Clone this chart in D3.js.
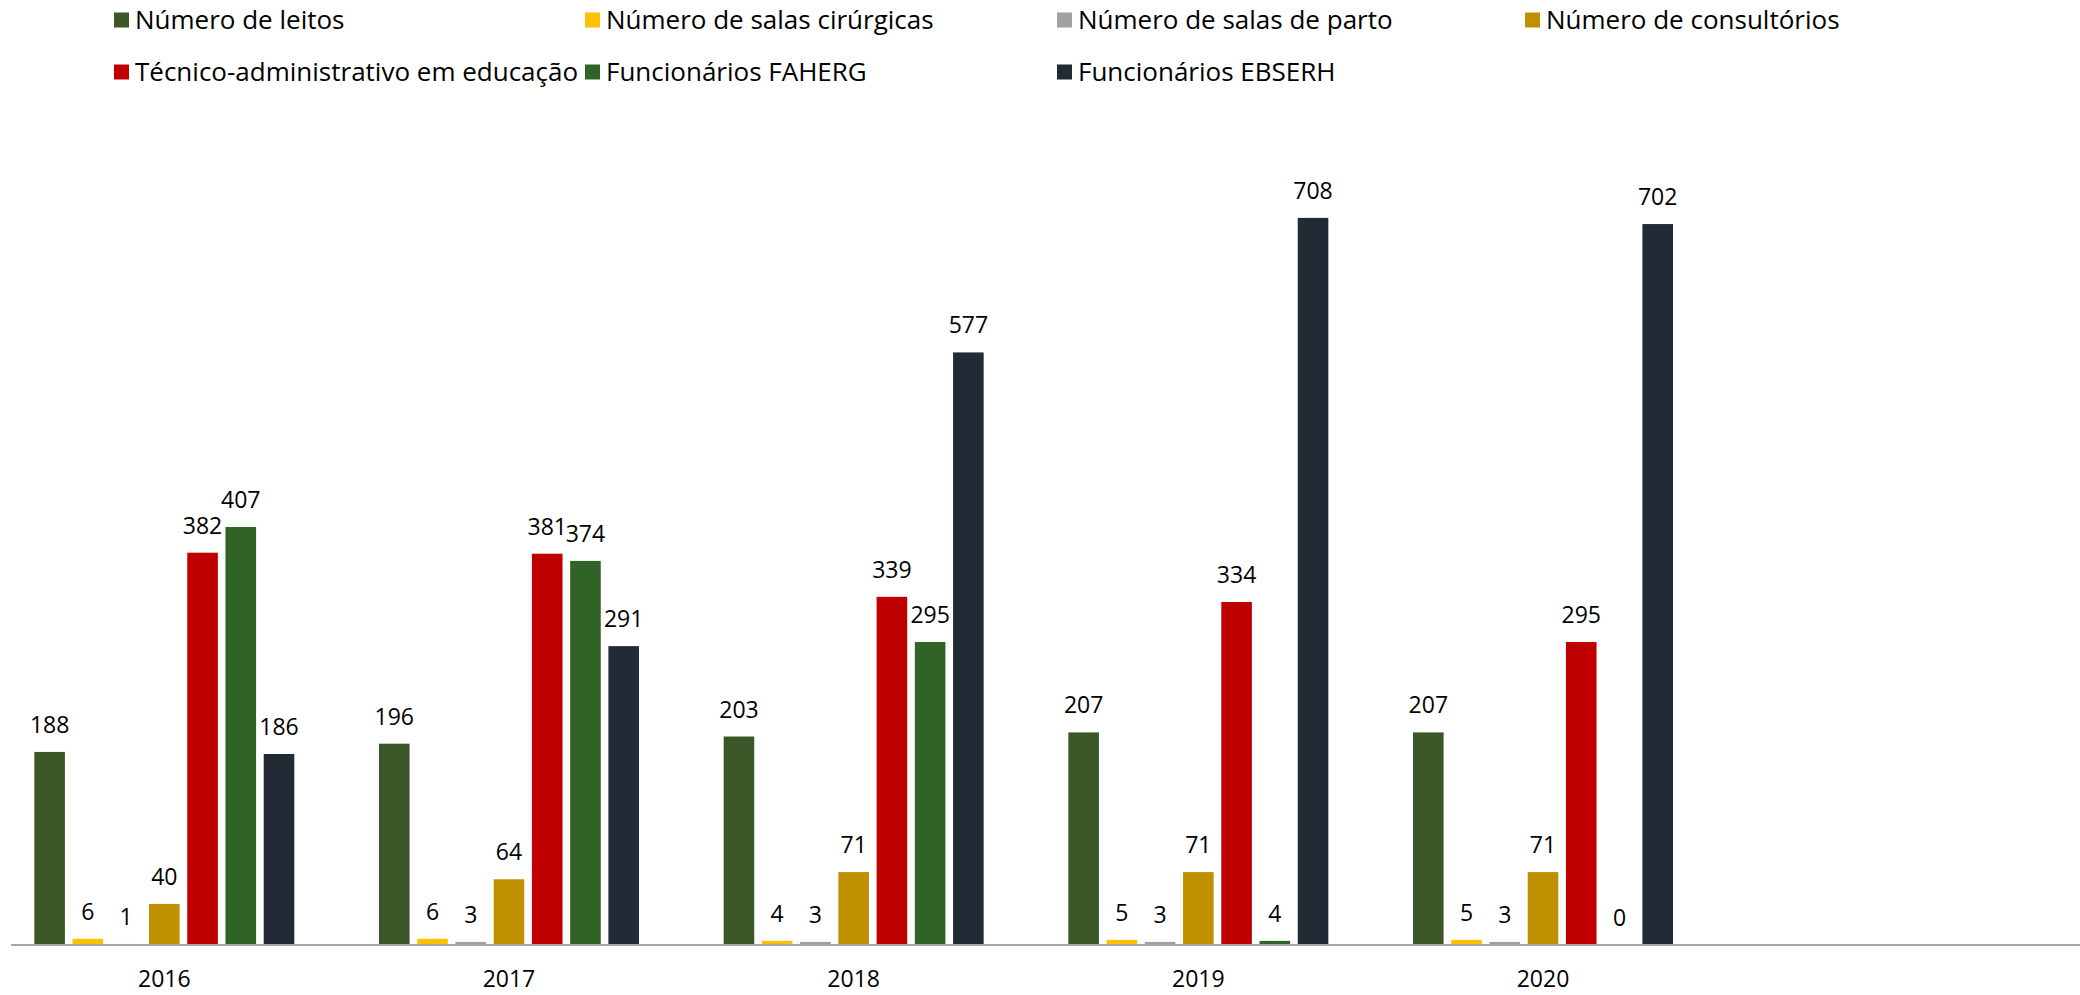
<!DOCTYPE html>
<html>
<head>
<meta charset="utf-8">
<script src="https://cdn.jsdelivr.net/npm/d3@7"></script>
<style>
  body { margin: 0; background: #fff; }
  svg { display: block; font-family: "Open Sans", sans-serif; }
</style>
</head>
<body>
<svg id="chart" width="2080" height="995"></svg>
<script>
// anos (o último slot fica vazio, como no original)
var years = ["2016", "2017", "2018", "2019", "2020", ""]
var seriesNames = [
   "Número de leitos",
   "Número de salas cirúrgicas",
   "Número de salas de parto",
   "Número de consultórios",
   "Técnico-administrativo em educação",
   "Funcionários FAHERG",
   "Funcionários EBSERH"
]
var seriesColors = ["#3B5727", "#FFC000", "#A0A0A0", "#BF9000", "#C00000", "#306427", "#222A35"]

var leitos = [188, 196, 203, 207, 207]
var salasCirurgicas = [6, 6, 4, 5, 5]
var salasParto = [1, 3, 3, 3, 3]
var consultorios = [40, 64, 71, 71, 71]
var tecnicos = [382, 381, 339, 334, 295]
var faherg = [407, 374, 295, 4, 0]
var ebserh = [186, 291, 577, 708, 702]

var seriesValues = [leitos, salasCirurgicas, salasParto, consultorios, tecnicos, faherg, ebserh]

var svg = d3.select("#chart")
var baseY = 945

var x0 = d3.scaleBand().domain(years).range([-8, 2060]).paddingInner(0.2457).paddingOuter(0.1228)
var x1 = d3.scaleBand().domain(d3.range(seriesNames.length)).range([0, x0.bandwidth()]).paddingInner(0.2)
var yScale = d3.scaleLinear().domain([0, 800]).range([baseY, 123.4])

// dados achatados
var bars = []
years.slice(0, 5).forEach(function(yr, i) {
   seriesValues.forEach(function(vals, s) {
      bars.push({ year: yr, s: s, v: vals[i] })
   })
})

svg.append("g").selectAll("rect")
   .data(bars)
   .join("rect")
   .attr("x", d => x0(d.year) + x1(d.s))
   .attr("y", d => yScale(d.v))
   .attr("width", x1.bandwidth())
   .attr("height", d => baseY - yScale(d.v))
   .attr("fill", d => seriesColors[d.s])

svg.append("g").selectAll("text")
   .data(bars)
   .join("text")
   .attr("x", d => x0(d.year) + x1(d.s) + x1.bandwidth() / 2)
   .attr("y", d => yScale(d.v) - 19)
   .attr("text-anchor", "middle")
   .style("font-size", "23px")
   .attr("fill", "#000")
   .text(d => d.v)

// eixo x
svg.append("line")
   .attr("x1", 11).attr("x2", 2080)
   .attr("y1", baseY).attr("y2", baseY)
   .attr("stroke", "#A6A6A6")
   .attr("stroke-width", 2)

svg.append("g").selectAll("text")
   .data(years.filter(d => d !== ""))
   .join("text")
   .attr("x", d => x0(d) + x0.bandwidth() / 2)
   .attr("y", 987)
   .attr("text-anchor", "middle")
   .style("font-size", "23px")
   .text(d => d)

// legenda
var legend = svg.append("g")
var legendX = [114, 585, 1057, 1525]
var legendRowY = [20, 72]
seriesNames.forEach(function(name, i) {
   var col = i < 4 ? i : i - 4
   var row = i < 4 ? 0 : 1
   var g = legend.append("g").attr("transform", "translate(" + legendX[col] + "," + legendRowY[row] + ")")
   g.append("rect").attr("x", 0).attr("y", -7.5).attr("width", 15).attr("height", 15).attr("fill", seriesColors[i])
   g.append("text").attr("x", 21).attr("y", 9).style("font-size", "26px").text(name)
})
</script>
</body>
</html>
